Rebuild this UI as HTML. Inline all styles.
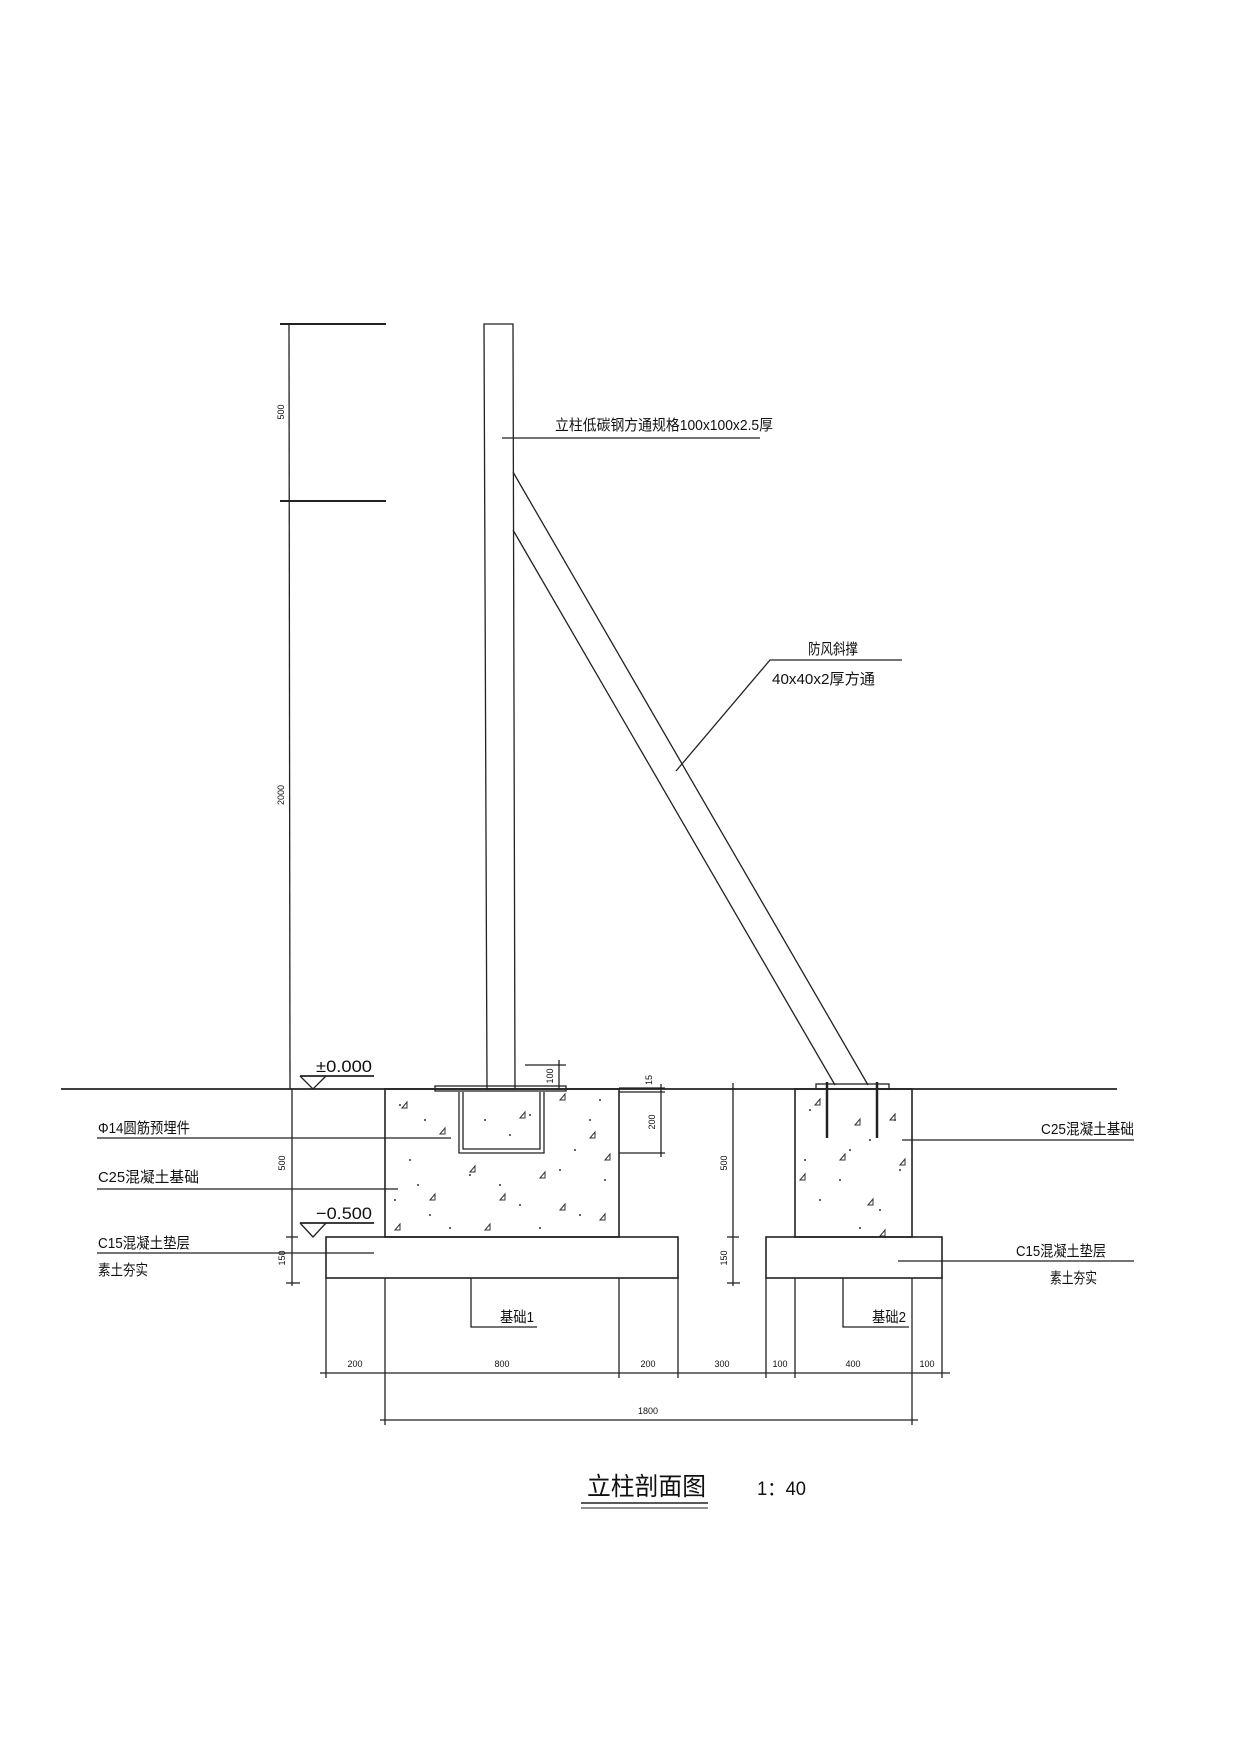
<!DOCTYPE html>
<html><head><meta charset="utf-8"><style>
html,body{margin:0;padding:0;background:#fff;}
svg{display:block;}
text{font-family:"Liberation Sans","Noto Sans CJK SC",sans-serif;fill:#111;}
</style></head><body>
<svg width="1240" height="1752" viewBox="0 0 1240 1752" xmlns="http://www.w3.org/2000/svg">
<g stroke="#222" stroke-width="1.3" fill="none">
<!-- left dim line -->
<line x1="289" y1="324" x2="290" y2="1089"/>
<line x1="280" y1="324" x2="386" y2="324" stroke-width="2"/>
<line x1="280" y1="501" x2="386" y2="501" stroke-width="2"/>
<!-- post -->
<polygon points="484,324 513,324 515,1089 487,1089"/>
<!-- post label leader -->
<line x1="502" y1="438" x2="760" y2="438"/>
<!-- brace -->
<line x1="513" y1="472" x2="868" y2="1085"/>
<line x1="513" y1="530" x2="835" y2="1085"/>
<!-- brace leader -->
<polyline points="676,771 770,660 902,660"/>
<!-- ground -->
<line x1="61" y1="1089" x2="1117" y2="1089" stroke-width="1.8"/>
<!-- ±0.000 -->
<line x1="300" y1="1076" x2="374" y2="1076" stroke-width="1.8"/>
<polyline points="300,1076 313,1089 326,1076"/>
<!-- left vertical dim 500/150 -->
<line x1="292" y1="1089" x2="292" y2="1286"/>
<line x1="286" y1="1237" x2="298" y2="1237"/>
<line x1="286" y1="1283" x2="300" y2="1283"/>
<!-- foundation 1 -->
<rect x="385" y="1089" width="234" height="148" stroke-width="1.6"/>
<rect x="326" y="1237" width="352" height="41" stroke-width="1.6"/>
<!-- channel -->
<polyline points="459,1092 459,1153 544,1153 544,1092"/>
<polyline points="463,1092 463,1149 540,1149 540,1092"/>
<rect x="435" y="1086" width="131" height="5"/>
<!-- dim 100 -->
<line x1="525" y1="1065" x2="566" y2="1065"/>
<line x1="559" y1="1060" x2="559" y2="1089"/>
<!-- dim 15/200 -->
<line x1="619" y1="1088" x2="665" y2="1088"/>
<line x1="619" y1="1092" x2="665" y2="1092"/>
<line x1="619" y1="1153" x2="665" y2="1153"/>
<line x1="661" y1="1084" x2="661" y2="1157"/>
<!-- -0.500 -->
<line x1="300" y1="1223" x2="374" y2="1223" stroke-width="1.8"/>
<polyline points="300,1223 313,1237 326,1223"/>
<!-- left leaders -->
<line x1="97" y1="1138" x2="451" y2="1138"/>
<line x1="97" y1="1189" x2="398" y2="1189"/>
<line x1="97" y1="1253" x2="374" y2="1253"/>
<!-- foundation 2 -->
<rect x="795" y="1089" width="117" height="148" stroke-width="1.6"/>
<rect x="766" y="1237" width="176" height="41" stroke-width="1.6"/>
<rect x="816" y="1084" width="73" height="5"/>
<line x1="827" y1="1082" x2="827" y2="1138" stroke-width="2.5"/>
<line x1="877" y1="1082" x2="877" y2="1138" stroke-width="2.5"/>
<line x1="733" y1="1083" x2="733" y2="1286"/>
<line x1="727" y1="1237" x2="739" y2="1237"/>
<line x1="727" y1="1283" x2="740" y2="1283"/>
<!-- right leaders -->
<line x1="902" y1="1140" x2="1134" y2="1140"/>
<line x1="898" y1="1261" x2="1134" y2="1261"/>
<!-- 基础 leaders -->
<polyline points="471,1278 471,1327 537,1327"/>
<polyline points="843,1278 843,1327 909,1327"/>
<!-- bottom dims -->
<line x1="320" y1="1373" x2="950" y2="1373"/>
<line x1="326" y1="1278" x2="326" y2="1378"/>
<line x1="385" y1="1278" x2="385" y2="1425"/>
<line x1="619" y1="1278" x2="619" y2="1378"/>
<line x1="678" y1="1278" x2="678" y2="1378"/>
<line x1="766" y1="1278" x2="766" y2="1378"/>
<line x1="795" y1="1278" x2="795" y2="1378"/>
<line x1="912" y1="1278" x2="912" y2="1425"/>
<line x1="942" y1="1278" x2="942" y2="1378"/>
<line x1="380" y1="1420" x2="918" y2="1420"/>
<!-- title underline -->
<line x1="581" y1="1503" x2="708" y2="1503" stroke-width="1.6"/>
<line x1="581" y1="1508" x2="708" y2="1508" stroke-width="1"/>
</g>
<!-- concrete speckle -->
<g fill="#333">
<circle cx="400" cy="1105" r="1"/><circle cx="425" cy="1120" r="1"/><circle cx="410" cy="1160" r="1"/><circle cx="395" cy="1200" r="1"/><circle cx="430" cy="1215" r="1"/>
<circle cx="470" cy="1175" r="1"/><circle cx="500" cy="1185" r="1"/><circle cx="520" cy="1205" r="1"/><circle cx="560" cy="1170" r="1"/><circle cx="590" cy="1120" r="1"/>
<circle cx="580" cy="1215" r="1"/><circle cx="605" cy="1180" r="1"/><circle cx="450" cy="1228" r="1"/><circle cx="540" cy="1228" r="1"/><circle cx="600" cy="1100" r="1"/>
<circle cx="485" cy="1120" r="1"/><circle cx="510" cy="1135" r="1"/><circle cx="530" cy="1115" r="1"/><circle cx="418" cy="1185" r="1"/><circle cx="575" cy="1150" r="1"/>
<circle cx="810" cy="1110" r="1"/><circle cx="850" cy="1150" r="1"/><circle cx="900" cy="1170" r="1"/><circle cx="820" cy="1200" r="1"/><circle cx="880" cy="1210" r="1"/>
<circle cx="860" cy="1228" r="1"/><circle cx="805" cy="1160" r="1"/><circle cx="895" cy="1120" r="1"/><circle cx="840" cy="1180" r="1"/><circle cx="870" cy="1140" r="1"/>
</g>
<g stroke="#333" stroke-width="1" fill="none">
<path d="M402,1108 l5,-6 l0,6z M440,1134 l5,-6 l0,6z M520,1118 l5,-6 l0,6z M560,1100 l5,-6 l0,6z M590,1138 l5,-6 l0,6z M430,1200 l5,-6 l0,6z M470,1172 l5,-6 l0,6z M500,1200 l5,-6 l0,6z M560,1210 l5,-6 l0,6z M600,1220 l5,-6 l0,6z M395,1230 l5,-6 l0,6z M485,1230 l5,-6 l0,6z M605,1160 l5,-6 l0,6z M540,1178 l5,-6 l0,6z"/>
<path d="M815,1105 l5,-6 l0,6z M855,1125 l5,-6 l0,6z M890,1120 l5,-6 l0,6z M840,1160 l5,-6 l0,6z M900,1165 l5,-6 l0,6z M868,1205 l5,-6 l0,6z M800,1180 l5,-6 l0,6z M880,1236 l5,-6 l0,6z"/>
</g>
<!-- text -->
<text x="555" y="430" font-size="15" textLength="218" lengthAdjust="spacingAndGlyphs">立柱低碳钢方通规格100x100x2.5厚</text>
<text x="808" y="654" font-size="15" textLength="50" lengthAdjust="spacingAndGlyphs">防风斜撑</text>
<text x="772" y="684" font-size="15" textLength="103" lengthAdjust="spacingAndGlyphs">40x40x2厚方通</text>
<text x="316" y="1072" font-size="17" textLength="56" lengthAdjust="spacingAndGlyphs">±0.000</text>
<text x="316" y="1219" font-size="17" textLength="56" lengthAdjust="spacingAndGlyphs">−0.500</text>
<text x="98" y="1133" font-size="15" textLength="92" lengthAdjust="spacingAndGlyphs">Φ14圆筋预埋件</text>
<text x="98" y="1182" font-size="15" textLength="101" lengthAdjust="spacingAndGlyphs">C25混凝土基础</text>
<text x="98" y="1248" font-size="15" textLength="92" lengthAdjust="spacingAndGlyphs">C15混凝土垫层</text>
<text x="98" y="1275" font-size="15" textLength="50" lengthAdjust="spacingAndGlyphs">素土夯实</text>
<text x="1041" y="1134" font-size="15" textLength="93" lengthAdjust="spacingAndGlyphs">C25混凝土基础</text>
<text x="1016" y="1256" font-size="15" textLength="90" lengthAdjust="spacingAndGlyphs">C15混凝土垫层</text>
<text x="1050" y="1283" font-size="15" textLength="47" lengthAdjust="spacingAndGlyphs">素土夯实</text>
<text x="500" y="1322" font-size="15" textLength="34" lengthAdjust="spacingAndGlyphs">基础1</text>
<text x="872" y="1322" font-size="15" textLength="34" lengthAdjust="spacingAndGlyphs">基础2</text>
<g font-size="9" text-anchor="middle">
<text x="355" y="1367">200</text><text x="502" y="1367">800</text><text x="648" y="1367">200</text>
<text x="722" y="1367">300</text><text x="780" y="1367">100</text><text x="853" y="1367">400</text><text x="927" y="1367">100</text>
<text x="648" y="1414">1800</text>
<text transform="translate(284,412) rotate(-90)">500</text>
<text transform="translate(284,795) rotate(-90)">2000</text>
<text transform="translate(285,1163) rotate(-90)">500</text>
<text transform="translate(285,1258) rotate(-90)">150</text>
<text transform="translate(727,1163) rotate(-90)">500</text>
<text transform="translate(727,1258) rotate(-90)">150</text>
<text transform="translate(553,1076) rotate(-90)">100</text>
<text transform="translate(652,1080) rotate(-90)">15</text>
<text transform="translate(655,1122) rotate(-90)">200</text>
</g>
<text x="587" y="1495" font-size="25" textLength="119" lengthAdjust="spacingAndGlyphs">立柱剖面图</text>
<text x="757" y="1495" font-size="19" textLength="49" lengthAdjust="spacingAndGlyphs">1：40</text>
</svg>
</body></html>
